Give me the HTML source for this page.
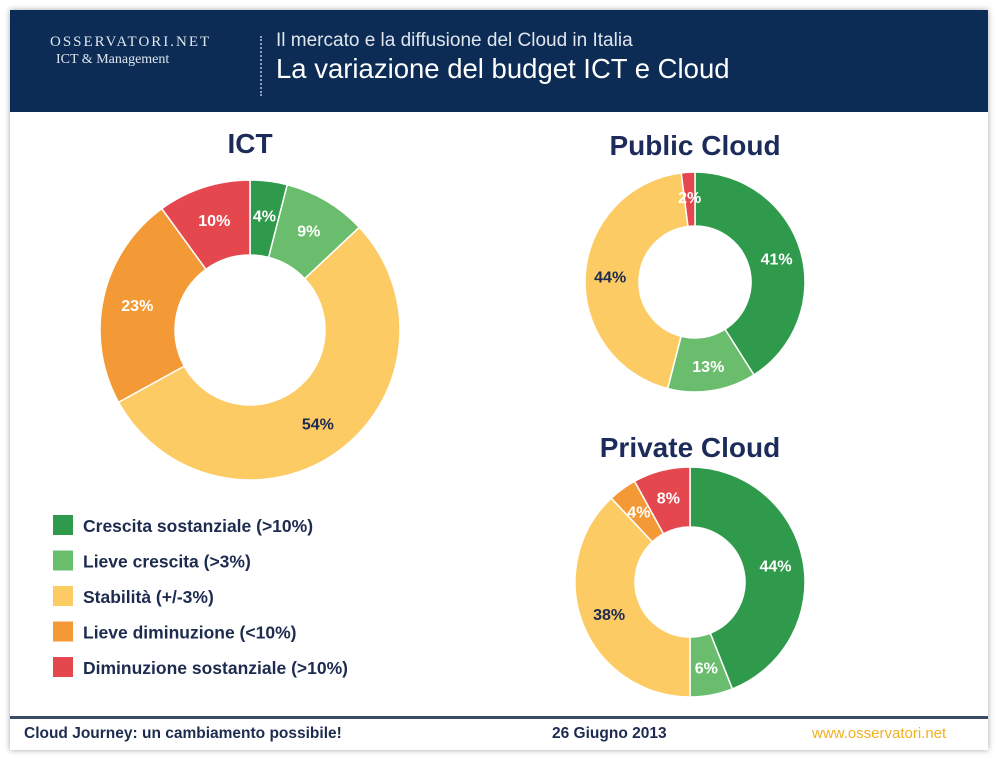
<!DOCTYPE html>
<html><head><meta charset="utf-8"><style>
body{margin:0;width:1000px;height:761px;background:#fff;font-family:"Liberation Sans",sans-serif;overflow:hidden;position:relative}
.slide{position:absolute;left:10px;top:10px;width:978px;height:740px;background:#fff;box-shadow:0 0 6px rgba(0,0,0,.35)}
.hdr{position:absolute;left:0;top:0;width:978px;height:102px;background:#0c2c55}
.t{position:absolute;white-space:nowrap}
</style></head><body>
<div class="slide">
 <div class="hdr">
  <div class="t" style="left:40px;top:24px;color:#dfe6ee;font-family:'Liberation Serif',serif;font-size:15px;letter-spacing:2px">OSSERVATORI.NET</div>
  <div class="t" style="left:46px;top:42px;color:#dfe6ee;font-family:'Liberation Serif',serif;font-size:14px">ICT &amp; Management</div>
  <div style="position:absolute;left:250px;top:26px;height:60px;border-left:2px dotted #8fa0b5"></div>
  <div class="t" style="left:266px;top:20px;color:#dfe6ee;font-size:19px">Il mercato e la diffusione del Cloud in Italia</div>
  <div class="t" style="left:266px;top:43px;color:#fff;font-size:27.5px">La variazione del budget ICT e Cloud</div>
 </div>
 <div style="position:absolute;left:0;top:706px;width:978px;height:3px;background:#3b4a66"></div>
 <div class="t" style="left:14px;top:715px;color:#1d2b4f;font-size:15.5px;font-weight:bold">Cloud Journey: un cambiamento possibile!</div>
 <div class="t" style="left:542px;top:715px;color:#1d2b4f;font-size:15.5px;font-weight:bold">26 Giugno 2013</div>
 <div class="t" style="left:802px;top:715px;color:#f0b020;font-size:15px">www.osservatori.net</div>
</div>
<svg id="c" width="1000" height="761" style="position:absolute;left:0;top:0"></svg>
<script>
const categories=["Crescita sostanziale (>10%)","Lieve crescita (>3%)","Stabilità (+/-3%)","Lieve diminuzione (<10%)","Diminuzione sostanziale (>10%)"];
const colors=["#2f9a4c","#69bd6c","#fccb64","#f39a36","#e5474f"];
const ictValues=[4,9,54,23,10];
const publicValues=[41,13,44,0,2];
const privateValues=[44,6,38,4,8];
const labelColors=["#fff","#fff","#1d2b4f","#fff","#fff"];
const svg=document.getElementById('c');const NS='http://www.w3.org/2000/svg';
function mk(t,a){const e=document.createElementNS(NS,t);for(const k in a)e.setAttribute(k,a[k]);svg.appendChild(e);return e;}
function donut(name,vals,cx,cy,R,r,title,ty,lr){
 const tt=mk('text',{x:cx,y:ty,'text-anchor':'middle','font-size':28,'font-weight':'bold',fill:'#1d2b5a'});tt.textContent=title;
 
 
 const tot=vals.reduce((a,b)=>a+b,0);let a0=0;
 vals.forEach((v,i)=>{if(!v)return;const a1=a0+v/tot*2*Math.PI;
  const p=(a,rr)=>[cx+rr*Math.sin(a),cy-rr*Math.cos(a)];
  const [x1,y1]=p(a0,R),[x2,y2]=p(a1,R),[x3,y3]=p(a1,r),[x4,y4]=p(a0,r);const lg=a1-a0>Math.PI?1:0;
  const s=mk('path',{d:`M${x1},${y1}A${R},${R} 0 ${lg} 1 ${x2},${y2}L${x3},${y3}A${r},${r} 0 ${lg} 0 ${x4},${y4}Z`,fill:colors[i],stroke:'#fff','stroke-width':1.5});
  
  
  const am=(a0+a1)/2,[lx,ly]=p(am,lr);
  const t=mk('text',{x:lx,y:ly+6,'text-anchor':'middle','font-size':16,'font-weight':'bold',fill:labelColors[i]});t.textContent=v+'%';
  
  
  a0=a1;});
}
donut('ict',ictValues,250,330,150,75,'ICT',153,(150+75)/2+3);
donut('public-cloud',publicValues,695,282,110,56,'Public Cloud',155,85);
donut('private-cloud',privateValues,690,582,115,55,'Private Cloud',457,87);
categories.forEach((c,i)=>{const y=515+i*35.5;
 const r=mk('rect',{x:53,y:y,width:20,height:20,fill:colors[i]});
 
 
 const t=mk('text',{x:83,y:y+17,'font-size':17.5,'font-weight':'bold',fill:'#1d2b4f'});t.textContent=c;
 
 });
</script>
</body></html>
